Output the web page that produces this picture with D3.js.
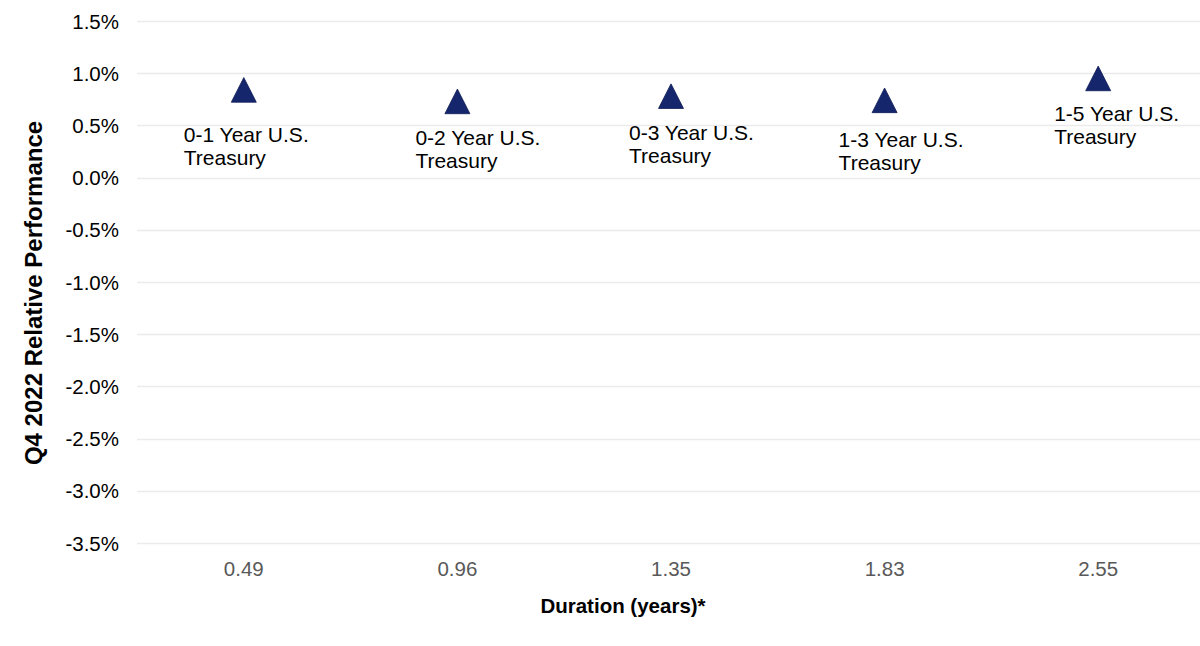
<!DOCTYPE html>
<html>
<head>
<meta charset="utf-8">
<script src="https://cdn.jsdelivr.net/npm/d3@7"></script>
<style>
  html, body { margin: 0; padding: 0; background: #fff; }
  svg { display: block; font-family: "Liberation Sans", Arial, sans-serif; }
</style>
</head>
<body>
<svg id="chart" width="1200" height="646"></svg>
<script>
// ---- data ----
const categories = ["0.49", "0.96", "1.35", "1.83", "2.55"];
const seriesNames = ["0-1 Year U.S. Treasury", "0-2 Year U.S. Treasury", "0-3 Year U.S. Treasury", "1-3 Year U.S. Treasury", "1-5 Year U.S. Treasury"];
const labelLine1 = ["0-1 Year U.S.", "0-2 Year U.S.", "0-3 Year U.S.", "1-3 Year U.S.", "1-5 Year U.S."];
const labelLine2 = ["Treasury", "Treasury", "Treasury", "Treasury", "Treasury"];
const values = [0.0084, 0.0073, 0.0078, 0.0074, 0.0095];
const yTicks = [0.015, 0.01, 0.005, 0, -0.005, -0.01, -0.015, -0.02, -0.025, -0.03, -0.035];

// ---- layout (label placement offsets in px) ----
const labelDx = [-60, -42, -42, -46, -44];
const labelDy = [52, 44, 44, 47, 43];

const svg = d3.select("#chart");
const mLeft = 137, mRight = 1205, mTop = 21, mBottom = 543;
const FONT = "Liberation Sans, Arial, sans-serif";

const x = d3.scaleBand().domain(categories).range([mLeft, mRight]).padding(0);
const y = d3.scaleLinear().domain([-0.035, 0.015]).range([mBottom, mTop]);

// gridlines
svg.append("g").selectAll("line").data(yTicks).join("line")
  .attr("x1", mLeft).attr("x2", 1200)
  .attr("y1", d => Math.round(y(d)) + 0.5).attr("y2", d => Math.round(y(d)) + 0.5)
  .attr("stroke", "#ebebeb").attr("stroke-width", 1.5);

// y axis
const pct = d => d3.format(".1%")(d).replace("\u2212", "-");
const yAxis = d3.axisLeft(y).tickValues(yTicks).tickFormat(pct).tickSize(0).tickPadding(0);
const gy = svg.append("g").attr("transform", `translate(119,0)`).call(yAxis);
gy.select(".domain").remove();
gy.selectAll("text").attr("font-size", 20.5).attr("fill", "#000")
  .attr("font-family", FONT).attr("dy", "0.35em");

// x axis
const xAxis = d3.axisBottom(x).tickSize(0).tickPadding(0);
const gx = svg.append("g").attr("transform", `translate(0,${mBottom})`).call(xAxis);
gx.select(".domain").remove();
gx.selectAll("text").attr("font-size", 20.5).attr("fill", "#595959")
  .attr("font-family", FONT).attr("dy", "0").attr("y", 33);

// axis titles
svg.append("text").attr("x", 623).attr("y", 613).attr("text-anchor", "middle")
  .attr("font-size", 20.5).attr("font-weight", "bold").attr("fill", "#000")
  .text("Duration (years)*");
svg.append("text").attr("transform", "translate(42,293) rotate(-90)").attr("text-anchor", "middle")
  .attr("font-size", 24).attr("font-weight", "bold").attr("fill", "#000")
  .text("Q4 2022 Relative Performance");

// points
const pts = categories.map((c, i) => ({ c, v: values[i], i }));
const tri = (cx, cy) => `M${cx},${cy - 12.3}L${cx + 12.5},${cy + 12.3}L${cx - 12.5},${cy + 12.3}Z`;
svg.append("g").selectAll("path").data(pts).join("path")
  .attr("d", d => tri(x(d.c) + x.bandwidth() / 2, y(d.v)))
  .attr("fill", "#15266d").attr("stroke", "#0f1c55").attr("stroke-width", 0.8);

// data labels
const lab = svg.append("g").selectAll("text").data(pts).join("text")
  .attr("font-size", 21).attr("fill", "#000")
  .attr("x", d => x(d.c) + x.bandwidth() / 2 + labelDx[d.i])
  .attr("y", d => y(d.v) + labelDy[d.i]);
lab.append("tspan").text(d => labelLine1[d.i]);
lab.append("tspan").attr("x", d => x(d.c) + x.bandwidth() / 2 + labelDx[d.i]).attr("dy", 23)
  .text(d => labelLine2[d.i]);
</script>
</body>
</html>
